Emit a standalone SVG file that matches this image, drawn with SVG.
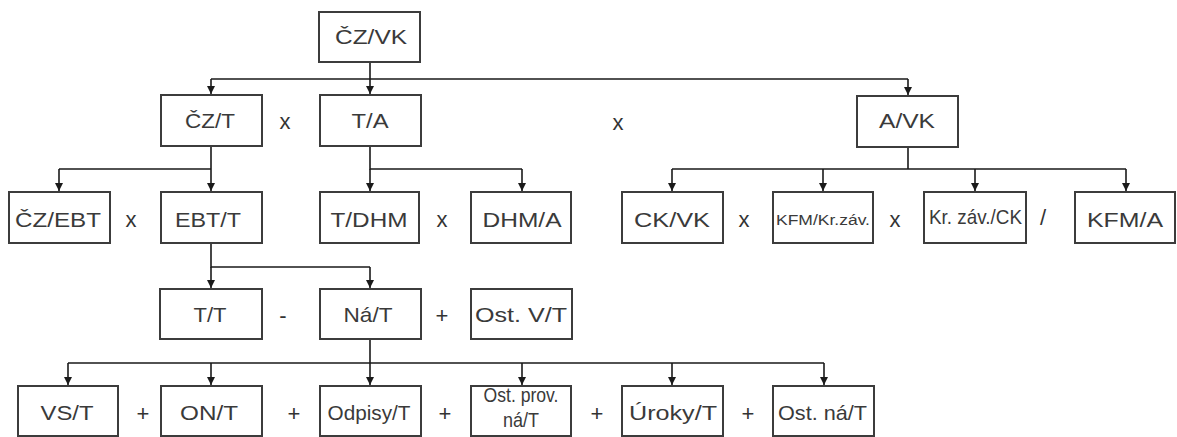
<svg xmlns="http://www.w3.org/2000/svg" width="1177" height="437" viewBox="0 0 1177 437">
<defs>
<style>
.box{fill:#fff;stroke:#3c3c3c;stroke-width:2}
.t{font-family:"Liberation Sans",Arial,sans-serif;font-size:21px;fill:#3a3a3a;text-anchor:middle}
.s{font-size:15.5px}
.op{font-family:"Liberation Sans",Arial,sans-serif;font-size:22px;fill:#333;text-anchor:middle}
.ln{fill:none;stroke:#1a1a1a;stroke-width:1.6}
</style>
<marker id="ah" viewBox="0 0 8 9" refX="8" refY="4.5" markerWidth="8" markerHeight="9" markerUnits="userSpaceOnUse" orient="auto">
<path d="M0,0.5 L8,4.5 L0,8.5 Z" fill="#1a1a1a"/>
</marker>
</defs>
<rect width="1177" height="437" fill="#fff"/>
<g id="connectors">
<path class="ln" d="M370,62 V79 M211,79 H908"/>
<path class="ln" d="M211,79 V94" marker-end="url(#ah)"/>
<path class="ln" d="M370,79 V94" marker-end="url(#ah)"/>
<path class="ln" d="M908,79 V95" marker-end="url(#ah)"/>
<path class="ln" d="M211,146 V169 M59,169 H211"/>
<path class="ln" d="M59,169 V191" marker-end="url(#ah)"/>
<path class="ln" d="M211,169 V191" marker-end="url(#ah)"/>
<path class="ln" d="M370,146 V169 H522"/>
<path class="ln" d="M370,169 V191" marker-end="url(#ah)"/>
<path class="ln" d="M522,169 V191" marker-end="url(#ah)"/>
<path class="ln" d="M908,147 V169 M672,169 H1126"/>
<path class="ln" d="M672,169 V191" marker-end="url(#ah)"/>
<path class="ln" d="M823,169 V191" marker-end="url(#ah)"/>
<path class="ln" d="M975,169 V191" marker-end="url(#ah)"/>
<path class="ln" d="M1126,169 V191" marker-end="url(#ah)"/>
<path class="ln" d="M211,243 V267 H370"/>
<path class="ln" d="M211,267 V288" marker-end="url(#ah)"/>
<path class="ln" d="M370,267 V288" marker-end="url(#ah)"/>
<path class="ln" d="M370,339 V363 M68,363 H824"/>
<path class="ln" d="M68,363 V385" marker-end="url(#ah)"/>
<path class="ln" d="M211,363 V385" marker-end="url(#ah)"/>
<path class="ln" d="M370,363 V385" marker-end="url(#ah)"/>
<path class="ln" d="M522,363 V385" marker-end="url(#ah)"/>
<path class="ln" d="M672,363 V385" marker-end="url(#ah)"/>
<path class="ln" d="M824,363 V385" marker-end="url(#ah)"/>
</g>
<g id="n-czvk"><rect class="box" x="319" y="12" width="101" height="50"/><text class="t" x="371" y="44" textLength="72" lengthAdjust="spacingAndGlyphs">ČZ/VK</text></g>
<g id="n-czt"><rect class="box" x="161" y="95" width="101" height="51"/><text class="t" x="210" y="128" textLength="50" lengthAdjust="spacingAndGlyphs">ČZ/T</text></g>
<g id="n-ta"><rect class="box" x="320" y="95" width="101" height="51"/><text class="t" x="370" y="128" textLength="37" lengthAdjust="spacingAndGlyphs">T/A</text></g>
<g id="n-avk"><rect class="box" x="857" y="96" width="101" height="51"/><text class="t" x="907" y="128" textLength="56" lengthAdjust="spacingAndGlyphs">A/VK</text></g>
<g id="n-czebt"><rect class="box" x="9" y="192" width="101" height="51"/><text class="t" x="58" y="227" textLength="86" lengthAdjust="spacingAndGlyphs">ČZ/EBT</text></g>
<g id="n-ebtt"><rect class="box" x="161" y="192" width="101" height="51"/><text class="t" x="208" y="227" textLength="66" lengthAdjust="spacingAndGlyphs">EBT/T</text></g>
<g id="n-tdhm"><rect class="box" x="320" y="192" width="99" height="51"/><text class="t" x="369" y="227" textLength="77" lengthAdjust="spacingAndGlyphs">T/DHM</text></g>
<g id="n-dhma"><rect class="box" x="471" y="192" width="100" height="51"/><text class="t" x="522" y="227" textLength="79" lengthAdjust="spacingAndGlyphs">DHM/A</text></g>
<g id="n-ckvk"><rect class="box" x="622" y="192" width="101" height="51"/><text class="t" x="672" y="227" textLength="76" lengthAdjust="spacingAndGlyphs">CK/VK</text></g>
<g id="n-kfmkrzav"><rect class="box" x="773" y="192" width="100" height="51"/><text class="t s" x="823" y="225" textLength="94" lengthAdjust="spacingAndGlyphs">KFM/Kr.záv.</text></g>
<g id="n-krzavck"><rect class="box" x="924" y="192" width="102" height="51"/><text class="t" x="975.5" y="224" font-size="16" textLength="93" lengthAdjust="spacingAndGlyphs">Kr. záv./CK</text></g>
<g id="n-kfma"><rect class="box" x="1075" y="192" width="100" height="51"/><text class="t" x="1125" y="227" textLength="76" lengthAdjust="spacingAndGlyphs">KFM/A</text></g>
<g id="n-tt"><rect class="box" x="160" y="289" width="102" height="50"/><text class="t" x="210" y="322" textLength="33" lengthAdjust="spacingAndGlyphs">T/T</text></g>
<g id="n-nat"><rect class="box" x="320" y="289" width="101" height="50"/><text class="t" x="368" y="322" textLength="49" lengthAdjust="spacingAndGlyphs">Ná/T</text></g>
<g id="n-ostvt"><rect class="box" x="471" y="289" width="101" height="50"/><text class="t" x="521" y="322" textLength="92" lengthAdjust="spacingAndGlyphs">Ost. V/T</text></g>
<g id="n-vst"><rect class="box" x="18" y="386" width="100" height="50"/><text class="t" x="67" y="420" textLength="53" lengthAdjust="spacingAndGlyphs">VS/T</text></g>
<g id="n-ont"><rect class="box" x="161" y="386" width="101" height="50"/><text class="t" x="209" y="420" textLength="58" lengthAdjust="spacingAndGlyphs">ON/T</text></g>
<g id="n-odpisyt"><rect class="box" x="320" y="386" width="101" height="50"/><text class="t" x="369" y="420" textLength="83" lengthAdjust="spacingAndGlyphs">Odpisy/T</text></g>
<g id="n-ostprovnat"><rect class="box" x="471" y="386" width="100" height="50"/><text class="t" x="521" y="402" font-size="15" textLength="75" lengthAdjust="spacingAndGlyphs">Ost. prov.</text><text class="t" x="521" y="427" font-size="15" textLength="36" lengthAdjust="spacingAndGlyphs">ná/T</text></g>
<g id="n-urokyt"><rect class="box" x="622" y="386" width="101" height="50"/><text class="t" x="673" y="420" textLength="88" lengthAdjust="spacingAndGlyphs">Úroky/T</text></g>
<g id="n-ostnat"><rect class="box" x="773" y="386" width="101" height="50"/><text class="t" x="822.5" y="420" textLength="89" lengthAdjust="spacingAndGlyphs">Ost. ná/T</text></g>
<g id="operators">
<text class="op" x="285" y="129">x</text>
<text class="op" x="618" y="130">x</text>
<text class="op" x="131" y="227">x</text>
<text class="op" x="442" y="227">x</text>
<text class="op" x="744" y="227">x</text>
<text class="op" x="895" y="227">x</text>
<text class="op" x="1043" y="225">/</text>
<text class="op" x="283" y="323">-</text>
<text class="op" x="442" y="323">+</text>
<text class="op" x="143" y="421">+</text>
<text class="op" x="294" y="421">+</text>
<text class="op" x="445" y="421">+</text>
<text class="op" x="597" y="421">+</text>
<text class="op" x="748" y="421">+</text>
</g>
</svg>
